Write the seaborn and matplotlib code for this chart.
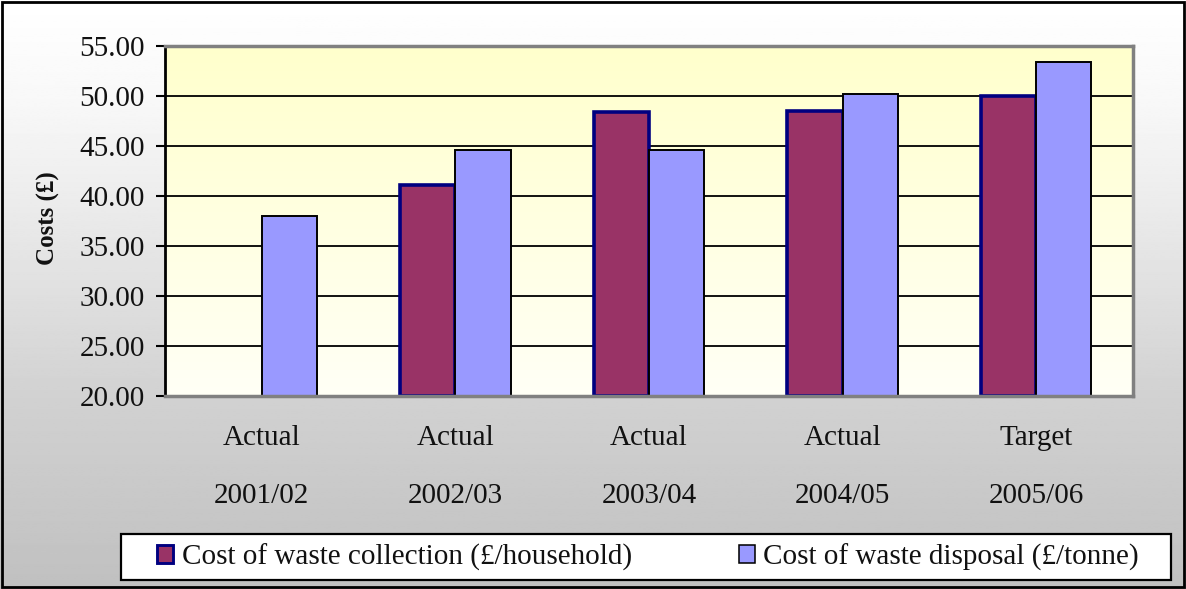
import numpy as np
import pandas as pd
import matplotlib
matplotlib.use("Agg")
import matplotlib.pyplot as plt
from matplotlib.patches import Patch, Rectangle
from matplotlib.ticker import FormatStrFormatter, MultipleLocator
import seaborn as sns

# ---- data -------------------------------------------------------------
status = ["Actual", "Actual", "Actual", "Actual", "Target"]
years = ["2001/02", "2002/03", "2003/04", "2004/05", "2005/06"]
collection = [np.nan, 41.1, 48.4, 48.5, 50.0]   # £ per household
disposal = [38.0, 44.6, 44.6, 50.2, 53.4]       # £ per tonne
series_names = ["Cost of waste collection (£/household)",
                "Cost of waste disposal (£/tonne)"]
y_min, y_max, y_step = 20, 55, 5

periods = [f"{s}\n\n{y}" for s, y in zip(status, years)]
df = pd.DataFrame({
    "period": periods * 2,
    "cost": collection + disposal,
    "measure": [series_names[0]] * len(periods) + [series_names[1]] * len(periods),
})

# ---- style ------------------------------------------------------------
sns.set_theme(style="white")
plt.rcParams["font.family"] = ["Liberation Serif", "DejaVu Serif"]

fill_colors = ["#993366", "#9999FF"]
edge_colors = ["#000080", "#000000"]
edge_widths = [2.6, 1.4]
text_color = "#111111"
font_size = 21

fig = plt.figure(figsize=(11.86, 5.89), dpi=100)

# chart-area background: white fading to silver towards the bottom
bg = fig.add_axes([0, 0, 1, 1], zorder=-10)
rows = np.linspace(0, 1, 300)
shade = np.interp(rows, [0.0, 0.17, 0.34, 0.68, 0.95, 1.0],
                  [255, 248, 236, 209, 195, 192]) / 255.0
grad = np.repeat(shade[:, None], 2, axis=1)
bg.imshow(grad, cmap="gray", vmin=0, vmax=1, aspect="auto",
          extent=[0, 1, 0, 1], origin="upper")
bg.set_axis_off()

ax = fig.add_axes([0.1391, 0.3272, 0.8162, 0.5947])
ax.patch.set_alpha(0)

# plot-area fill: pale yellow at top fading to cream
py = np.linspace(0, 1, 200)[:, None]
top = np.array([255, 255, 204]) / 255.0
bot = np.array([255, 255, 246]) / 255.0
pa = (top[None, None, :] * (1 - py[..., None]) + bot[None, None, :] * py[..., None])
pa = np.repeat(pa, 2, axis=1)
ax.imshow(pa, extent=(0, 1, 0, 1), transform=ax.transAxes, aspect="auto",
          origin="upper", zorder=0)

sns.barplot(data=df, x="period", y="cost", hue="measure",
            hue_order=series_names, palette=fill_colors, width=0.57,
            ax=ax, legend=False, saturation=1, zorder=2)

# bars rise from the axis floor; per-series outlines
for i, cont in enumerate(ax.containers):
    for bar in cont.patches:
        h = bar.get_height()
        if np.isnan(h):
            continue
        bar.set_y(y_min)
        bar.set_height(h - y_min)
        bar.set_edgecolor(edge_colors[i])
        bar.set_linewidth(edge_widths[i])

ax.set_xlim(-0.5, len(periods) - 0.5)
ax.set_ylim(y_min, y_max)
ax.yaxis.set_major_locator(MultipleLocator(y_step))
ax.yaxis.set_major_formatter(FormatStrFormatter("%.2f"))

ax.set_axisbelow(True)
ax.grid(axis="y", color="black", linewidth=1.3, zorder=1)
ax.grid(axis="x", visible=False)

for side in ["top", "right", "bottom"]:
    ax.spines[side].set_color("#808080")
    ax.spines[side].set_linewidth(2.5)
ax.spines["left"].set_color("black")
ax.spines["left"].set_linewidth(2)
for sp in ax.spines.values():
    sp.set_zorder(3)

ax.tick_params(axis="y", which="major", left=True, direction="out",
               length=6.5, width=1.5, color="black", pad=8,
               labelsize=font_size, labelcolor=text_color)
ax.tick_params(axis="x", length=0, pad=21, labelsize=font_size, labelcolor=text_color)
for lab in ax.get_xticklabels():
    lab.set_linespacing(1.14)

ax.set_xlabel("")
ax.set_ylabel("Costs (£)", fontsize=18, fontweight="bold", color=text_color)
ax.yaxis.set_label_coords(-0.1084, 0.51)

# legend box along the bottom
fig.patches.append(Rectangle((121 / 1186, 1 - 580 / 589), 1050 / 1186, 46 / 589,
                             transform=fig.transFigure, facecolor="white",
                             edgecolor="black", linewidth=1.6, zorder=5))
handles = [Patch(facecolor=fill_colors[i], edgecolor=edge_colors[i],
                 linewidth=edge_widths[i] * 0.8) for i in range(2)]
leg = fig.legend(handles, series_names, loc="center",
                 bbox_to_anchor=(157 / 1186, 1 - 580 / 589, 982 / 1186, 46 / 589),
                 mode="expand", ncol=2, frameon=False, fontsize=font_size,
                 handlelength=0.55, handleheight=0.55, handletextpad=0.3,
                 borderpad=0.0, borderaxespad=0.0)
leg.set_zorder(6)
for t in leg.get_texts():
    t.set_color(text_color)

# outer chart border
fig.patches.append(Rectangle((0.002, 0.003), 0.996, 0.994,
                             transform=fig.transFigure, facecolor="none",
                             edgecolor="black", linewidth=2, zorder=10))

fig.savefig("out.png", dpi=100)
